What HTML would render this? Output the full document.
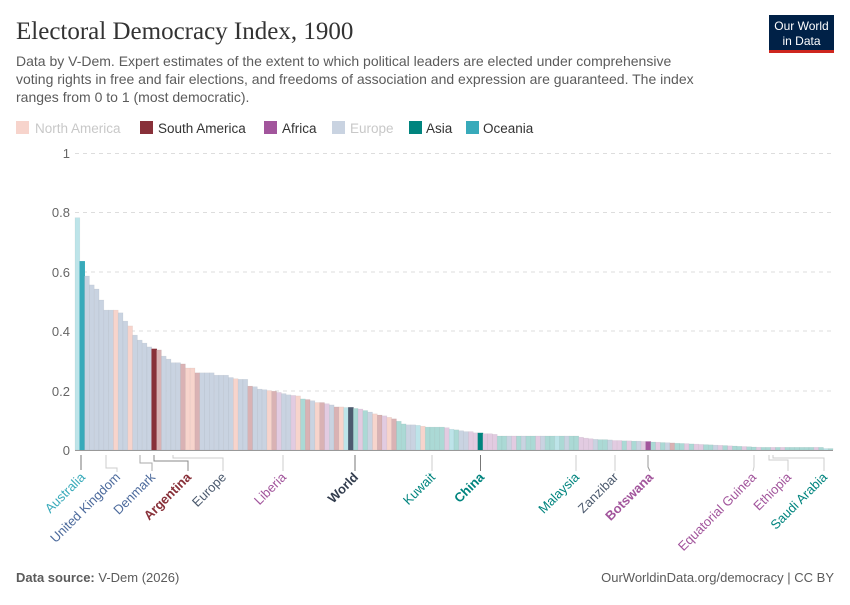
<!DOCTYPE html>
<html><head><meta charset="utf-8"><style>
body{margin:0;background:#fff;width:850px;height:600px;overflow:hidden;font-family:"Liberation Sans",sans-serif}
</style></head><body>
<svg id="s" width="850" height="600" xmlns="http://www.w3.org/2000/svg" font-family="Liberation Sans, sans-serif">
<text x="16" y="39" font-family="Liberation Serif, serif" font-size="25" fill="#333">Electoral Democracy Index, 1900</text>
<text font-size="14" fill="#5b5b5b"><tspan x="16" y="66">Data by V-Dem. Expert estimates of the extent to which political leaders are elected under comprehensive</tspan><tspan x="16" y="84">voting rights in free and fair elections, and freedoms of association and expression are guaranteed. The index</tspan><tspan x="16" y="102">ranges from 0 to 1 (most democratic).</tspan></text>
<rect x="769" y="15" width="65" height="36" fill="#002147"/><rect x="769" y="50" width="65" height="3" fill="#ce261e"/>
<text x="801.5" y="30" font-size="12" fill="#fff" text-anchor="middle">Our World</text><text x="801.5" y="45" font-size="12" fill="#fff" text-anchor="middle">in Data</text>
<g font-size="13.5">
<rect x="16" y="121" width="13" height="13" fill="#f7d4cc"/><text x="35" y="133" fill="#c8c8c8">North America</text>
<rect x="140" y="121" width="13" height="13" fill="#883039"/><text x="158" y="133" fill="#333">South America</text>
<rect x="264" y="121" width="13" height="13" fill="#a2559c"/><text x="282" y="133" fill="#333">Africa</text>
<rect x="332" y="121" width="13" height="13" fill="#c9d3e1"/><text x="350" y="133" fill="#c8c8c8">Europe</text>
<rect x="409" y="121" width="13" height="13" fill="#00847e"/><text x="426" y="133" fill="#333">Asia</text>
<rect x="466" y="121" width="13" height="13" fill="#38aaba"/><text x="483" y="133" fill="#333">Oceania</text>
</g>
<g stroke="#ddd" stroke-dasharray="4,4"><line x1="75" x2="833" y1="153.5" y2="153.5"/><line x1="75" x2="833" y1="212.5" y2="212.5"/><line x1="75" x2="833" y1="272" y2="272"/><line x1="75" x2="833" y1="331" y2="331"/><line x1="75" x2="833" y1="391" y2="391"/></g>
<g font-size="13" fill="#666" text-anchor="end"><text x="70" y="158">1</text><text x="70" y="217">0.8</text><text x="70" y="277">0.6</text><text x="70" y="336">0.4</text><text x="70" y="396">0.2</text><text x="70" y="455">0</text></g>
<g id="bars"></g>
<line x1="75" x2="833" y1="450.5" y2="450.5" stroke="#999"/>
<g fill="none" stroke="#aaa" stroke-width="1">
<path d="M81 455V470" stroke="#777"/>
<path d="M106 455V468H117V472" stroke="#ccc"/>
<path d="M140 455V463H152V471"/>
<path d="M154 455V461H188V471" stroke="#888"/>
<path d="M173 455V458H223V471" stroke="#ccc"/>
<path d="M283 455V471" stroke="#ccc"/>
<path d="M355 455V471" stroke="#777"/>
<path d="M432 455V471" stroke="#ccc"/>
<path d="M480.5 455V471" stroke="#777"/>
<path d="M576 455V471" stroke="#ccc"/>
<path d="M615 455V471" stroke="#ccc"/>
<path d="M648 455V467L650 471" stroke="#999"/>
<path d="M754 455V467L753 471" stroke="#ccc"/>
<path d="M769 455V460H788V471" stroke="#ccc"/>
<path d="M773 455V458H824V471" stroke="#ccc"/>
</g>
<g font-size="13" text-anchor="end">
<text transform="translate(86,478) rotate(-45)" fill="#38aaba">Australia</text>
<text transform="translate(121,478) rotate(-45)" fill="#4c6a9c">United Kingdom</text>
<text transform="translate(156,478) rotate(-45)" fill="#4c6a9c">Denmark</text>
<text transform="translate(192,478) rotate(-45)" fill="#883039" font-weight="bold">Argentina</text>
<text transform="translate(227,478) rotate(-45)" fill="#4c5a6e">Europe</text>
<text transform="translate(287,478) rotate(-45)" fill="#a2559c">Liberia</text>
<text transform="translate(359,478) rotate(-45)" fill="#333d4e" font-weight="bold">World</text>
<text transform="translate(436,478) rotate(-45)" fill="#00847e">Kuwait</text>
<text transform="translate(485,478) rotate(-45)" fill="#00847e" font-weight="bold">China</text>
<text transform="translate(580,478) rotate(-45)" fill="#00847e">Malaysia</text>
<text transform="translate(619,478) rotate(-45)" fill="#4c5a6e">Zanzibar</text>
<text transform="translate(654,478) rotate(-45)" fill="#a2559c" font-weight="bold">Botswana</text>
<text transform="translate(757,478) rotate(-45)" fill="#a2559c">Equatorial Guinea</text>
<text transform="translate(792,478) rotate(-45)" fill="#a2559c">Ethiopia</text>
<text transform="translate(828,478) rotate(-45)" fill="#00847e">Saudi Arabia</text>
</g>
<text x="16" y="582" font-size="13" fill="#5b5b5b"><tspan font-weight="bold">Data source:</tspan> V-Dem (2026)</text>
<text x="834" y="582" font-size="13" fill="#5b5b5b" text-anchor="end">OurWorldinData.org/democracy | CC BY</text>
</svg>
<script>
var C={E:"#c9d3e1",N:"#f7d4cc",S:"#d9b2b4",A:"#e2cbe1",I:"#abd9d5",O:"#bde4e9",OH:"#38aaba",SH:"#883039",WH:"#4c5a6e",IH:"#00847e",AH:"#a2559c"};
var d=[["O",.782],["OH",.635],["E",.586],["E",.556],["E",.542],["E",.505],["E",.471],["E",.471],["N",.471],["E",.462],["E",.434],["N",.418],["E",.387],["E",.370],["E",.360],["E",.347],["SH",.340],["S",.337],["E",.316],["E",.306],["E",.294],["E",.294],["S",.290],["N",.276],["N",.276],["S",.260],["E",.260],["E",.260],["E",.260],["E",.252],["E",.252],["E",.252],["E",.244],["N",.240],["E",.238],["E",.238],["S",.215],["E",.213],["E",.205],["E",.203],["N",.200],["S",.198],["A",.194],["E",.190],["E",.186],["A",.184],["N",.182],["I",.172],["S",.170],["E",.166],["N",.160],["S",.160],["A",.156],["E",.152],["S",.145],["N",.145],["O",.143],["WH",.143],["I",.140],["A",.138],["I",.133],["E",.128],["N",.122],["S",.118],["A",.115],["N",.110],["S",.105],["I",.097],["I",.088],["E",.085],["E",.085],["O",.083],["N",.080],["I",.077],["I",.077],["I",.077],["I",.077],["A",.075],["O",.070],["I",.068],["E",.065],["E",.062],["A",.062],["A",.058],["IH",.057],["A",.055],["A",.055],["A",.053]];
var mix="IIEAIEIIAEIIOIEII";
for(var i=0;i<mix.length;i++)d.push([mix.charAt(i),.047]);
var rest=[["A",.043],["A",.040],["A",.038],["E",.036],["I",.035],["I",.035],["E",.034],["A",.032],["A",.032],["I",.031],["A",.031],["I",.030],["E",.030],["A",.029],["AH",.028]];
d=d.concat(rest);
var m2="IAIESIIAIAAIIEAIAIIAIIA";
for(i=0;i<m2.length;i++)d.push([m2.charAt(i),0.027-i*0.0008]);
var m3="IIAIAIIIIIIAIO";
i=0;while(d.length<158){d.push([m3.charAt(i%m3.length),i>12?0.005:0.009]);i++;}
var g=document.getElementById("bars"),w=758/d.length,NS="http://www.w3.org/2000/svg";
for(i=0;i<d.length;i++){var k=d[i][0],h=d[i][1]*297,x=75+i*w,hl=k.length>1;
var r=document.createElementNS(NS,"rect");
r.setAttribute("x",x.toFixed(2));r.setAttribute("y",(450-h).toFixed(1));
r.setAttribute("width",(w+0.05).toFixed(2));r.setAttribute("height",h.toFixed(1));
r.setAttribute("fill",C[k]||"#ccc");r.setAttribute("stroke",hl?C[k]:"rgba(0,0,0,0.06)");r.setAttribute("stroke-width","0.6");
g.appendChild(r);}
</script>
</body></html>
